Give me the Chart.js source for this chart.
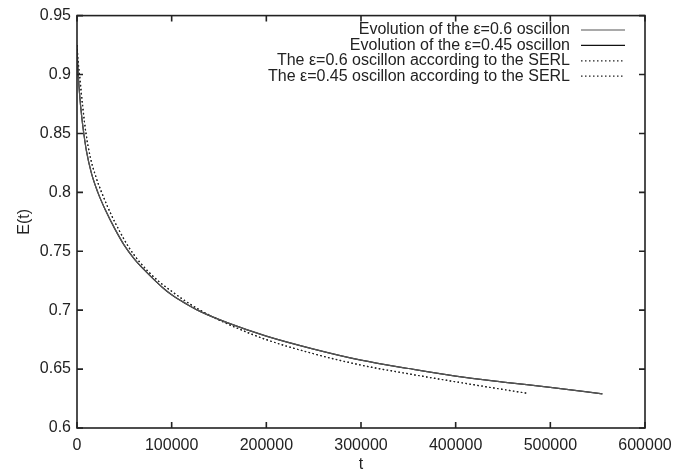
<!DOCTYPE html>
<html>
<head>
<meta charset="utf-8">
<title>E(t)</title>
<script src="https://cdn.jsdelivr.net/npm/chart.js@4/dist/chart.umd.min.js"></script>
<style>
  html, body { margin: 0; padding: 0; background: #fff; }
  #wrap { width: 694px; height: 474px; }
</style>
</head>
<body>
<div id="wrap"><canvas id="energyChart"></canvas></div>
<script>
// Energy of the oscillon vs time, simulation and SERL estimate
const tEvol = [0, 1000, 2500, 5000, 7500, 10000, 15000, 22000, 30000, 40000, 50000, 60000, 70000, 80000,
  90000, 100000, 115000, 130000, 160000, 200000, 250000, 300000, 350000, 400000, 450000, 500000, 555000];
const eEvol06 = [0.92, 0.903, 0.885, 0.864, 0.848, 0.835, 0.817, 0.80, 0.785, 0.769, 0.755, 0.744, 0.735, 0.727,
  0.7195, 0.713, 0.7055, 0.699, 0.689, 0.678, 0.667, 0.6576, 0.6505, 0.644, 0.639, 0.6345, 0.629];
const eEvol045 = [0.925, 0.905, 0.886, 0.864, 0.848, 0.835, 0.817, 0.80, 0.785, 0.769, 0.755, 0.744, 0.735, 0.727,
  0.7195, 0.713, 0.7055, 0.699, 0.689, 0.678, 0.667, 0.6576, 0.6505, 0.644, 0.639, 0.6345, 0.629];

const tSerl = [0, 1000, 3000, 6000, 9500, 14000, 20000, 26000, 35000, 45000, 55000, 65000, 75000, 87000,
  100000, 115000, 130000, 160000, 200000, 250000, 300000, 350000, 400000, 440000, 476000];
const eSerl06 = [0.925, 0.913, 0.897, 0.873, 0.85, 0.83, 0.813, 0.80, 0.783, 0.767, 0.753, 0.742, 0.733, 0.724,
  0.716, 0.7075, 0.700, 0.688, 0.675, 0.663, 0.6534, 0.646, 0.6392, 0.634, 0.6294];
const eSerl045 = [0.925, 0.913, 0.897, 0.873, 0.85, 0.83, 0.813, 0.80, 0.783, 0.767, 0.753, 0.742, 0.733, 0.724,
  0.716, 0.7075, 0.700, 0.688, 0.675, 0.663, 0.6534, 0.646, 0.6392, 0.634, 0.6294];

const seriesLabels = [
  "Evolution of the \u03b5=0.6 oscillon",
  "Evolution of the \u03b5=0.45 oscillon",
  "The \u03b5=0.6 oscillon according to the SERL",
  "The \u03b5=0.45 oscillon according to the SERL"
];

const xTicks = [0, 100000, 200000, 300000, 400000, 500000, 600000];
const yTicks = [0.6, 0.65, 0.7, 0.75, 0.8, 0.85, 0.9, 0.95];

const FONT = "'Liberation Sans', Arial, Helvetica, sans-serif";
const INK = "#222";

function toPoints(ts, es) {
  return ts.map((t, i) => ({ x: t, y: es[i] }));
}

function makeSet(label, ts, es, color, dash) {
  return {
    label: label,
    data: toPoints(ts, es),
    borderColor: color,
    borderWidth: 1.2,
    borderDash: dash,
    pointRadius: 0,
    fill: false,
    cubicInterpolationMode: "monotone",
  };
}

// frame, inward ticks on all four sides, and the gnuplot-like key
const framePlugin = {
  id: "frame",
  afterDraw(chart) {
    const c = chart.ctx;
    const a = chart.chartArea;
    const xs = chart.scales.x;
    const ys = chart.scales.y;
    c.save();
    c.strokeStyle = INK;
    c.lineWidth = 1.6;
    c.strokeRect(a.left, a.top, a.right - a.left, a.bottom - a.top);
    const len = 6;
    c.beginPath();
    xs.ticks.forEach(tk => {
      const px = xs.getPixelForValue(tk.value);
      c.moveTo(px, a.bottom); c.lineTo(px, a.bottom - len);
      c.moveTo(px, a.top); c.lineTo(px, a.top + len);
    });
    ys.ticks.forEach(tk => {
      const py = ys.getPixelForValue(tk.value);
      c.moveTo(a.left, py); c.lineTo(a.left + len, py);
      c.moveTo(a.right, py); c.lineTo(a.right - len, py);
    });
    c.stroke();

    // key
    c.font = "16px " + FONT;
    c.textAlign = "right";
    c.textBaseline = "middle";
    const textRight = 570, lineL = 581, lineR = 625;
    chart.data.datasets.forEach((ds, i) => {
      const y = 30 + i * 15.4;
      c.fillStyle = INK;
      c.fillText(ds.label, textRight, y);
      c.beginPath();
      c.strokeStyle = ds.borderColor;
      c.lineWidth = ds.borderWidth;
      c.setLineDash(ds.borderDash || []);
      c.moveTo(lineL, y); c.lineTo(lineR, y);
      c.stroke();
      c.setLineDash([]);
    });
    c.restore();
  }
};

const ctx = document.getElementById("energyChart").getContext("2d");
const energyChart = new Chart(ctx, {
  type: "line",
  data: {
    datasets: [
      makeSet(seriesLabels[0], tEvol, eEvol06, "#555", []),
      makeSet(seriesLabels[1], tEvol, eEvol045, "#111", []),
      makeSet(seriesLabels[2], tSerl, eSerl06, "#222", [1.5, 2.5]),
      makeSet(seriesLabels[3], tSerl, eSerl045, "#222", [1.5, 2.5]),
    ],
  },
  options: {
    responsive: true,
    maintainAspectRatio: false,
    animation: false,
    layout: { padding: { top: 15, right: 49, left: 0, bottom: 0 } },
    plugins: {
      legend: { display: false },
      tooltip: { enabled: false },
    },
    scales: {
      x: {
        type: "linear",
        min: 0,
        max: 600000,
        afterBuildTicks: s => { s.ticks = xTicks.map(v => ({ value: v })); },
        afterFit: s => { s.height = 46; },
        grid: { display: false, drawTicks: false },
        border: { display: false },
        ticks: {
          color: INK,
          font: { family: FONT, size: 16 },
          padding: 8,
          maxRotation: 0,
          callback: v => String(v),
        },
        title: {
          display: true,
          text: "t",
          color: INK,
          font: { family: FONT, size: 16 },
          padding: { top: 0, bottom: 0 },
        },
      },
      y: {
        type: "linear",
        min: 0.6,
        max: 0.95,
        afterBuildTicks: s => { s.ticks = yTicks.map(v => ({ value: v })); },
        afterFit: s => { s.width = 77; },
        grid: { display: false, drawTicks: false },
        border: { display: false },
        ticks: {
          color: INK,
          font: { family: FONT, size: 16 },
          padding: 6,
          callback: v => String(Math.round(v * 100) / 100),
        },
        title: {
          display: true,
          text: "E(t)",
          color: INK,
          font: { family: FONT, size: 16 },
          padding: { top: 15, bottom: 0 },
        },
      },
    },
  },
  plugins: [framePlugin],
});
</script>
</body>
</html>
